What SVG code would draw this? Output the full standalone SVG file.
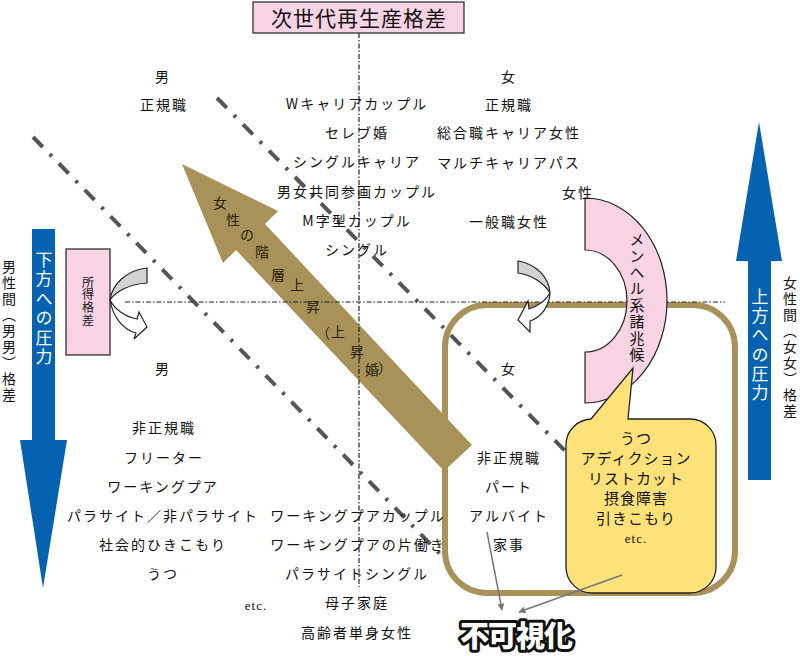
<svg xmlns="http://www.w3.org/2000/svg" width="800" height="656" viewBox="0 0 800 656">
<defs>
<style>
.t{font-family:"Noto Sans CJK JP","Noto Sans",sans-serif;font-size:14px;fill:#111;letter-spacing:2px;text-anchor:middle}
.b{font-family:"Noto Sans CJK JP","Noto Sans",sans-serif;font-size:15px;fill:#111;letter-spacing:1px;text-anchor:middle}
.s{font-family:"Liberation Serif","Noto Serif",serif;font-size:13px;fill:#111;letter-spacing:1px;text-anchor:middle}
.v{font-family:"Noto Sans CJK JP",sans-serif;writing-mode:vertical-rl;fill:#111}
.a{font-family:"Noto Sans CJK JP",sans-serif;font-size:14px;fill:#2a2210;text-anchor:middle}
.diag{stroke:#555;stroke-width:4;stroke-dasharray:14 10 3 10;fill:none}
.dot{stroke:#222;stroke-width:1.2;stroke-dasharray:5 2 1.5 2;fill:none}
.pk{fill:#f8d3e4;stroke:#222;stroke-width:1.2}
.ca{stroke:#222;stroke-width:1.2}
.con{stroke:#777;stroke-width:1.5;fill:none;marker-end:url(#ah)}
</style>
<marker id="ah" viewBox="0 0 10 10" refX="9" refY="5" markerWidth="7" markerHeight="7" orient="auto" markerUnits="userSpaceOnUse">
<path d="M0,0 L10,5 L0,10 z" fill="#777"/>
</marker>
</defs>
<rect width="800" height="656" fill="#fff"/>

<g id="frame">
<rect x="445" y="305" width="290" height="288" rx="42" fill="none" stroke="#a89259" stroke-width="6"/>
</g>

<g id="boundaries">
<line class="diag" x1="33" y1="137" x2="443" y2="557"/>
<line class="diag" x1="217" y1="98" x2="577" y2="463"/>
</g>

<g id="rise-arrow">
<polygon points="182,164 278,211 265,224 472,445 444,471 236,250 223,263" fill="#a89259"/>
<text class="a" x="220" y="208">女</text>
<text class="a" x="233" y="225">性</text>
<text class="a" x="247" y="240">の</text>
<text class="a" x="262" y="257">階</text>
<text class="a" x="278" y="280">層</text>
<text class="a" x="297" y="290">上</text>
<text class="a" x="313" y="312">昇</text>
<text class="a" x="323" y="338">（</text>
<text class="a" x="338" y="337">上</text>
<text class="a" x="357" y="357">昇</text>
<text class="a" x="372" y="375">婚</text>
<text class="a" x="385" y="373">）</text>
</g>

<g id="axes">
<line class="dot" x1="359" y1="33" x2="359" y2="587"/>
<line class="dot" x1="125" y1="302" x2="725" y2="302" stroke-dasharray="7 3 2 3"/>
</g>

<g id="title">
<rect x="253" y="2" width="211" height="31" class="pk" stroke-width="2"/>
<text x="359" y="26" font-family="Noto Sans CJK JP,sans-serif" font-size="21" fill="#111" text-anchor="middle" letter-spacing="1">次世代再生産格差</text>
</g>

<g id="income-gap">
<rect x="66" y="249" width="44" height="106" class="pk" stroke-width="2"/>
<text class="v" x="88" y="276" font-size="12" letter-spacing="0.8">所得格差</text>
</g>

<g id="turn-left">
<path class="ca" d="M147,268 C127,270 112,284 110,300 C116,291 130,284 147,283 Z" fill="#d1d3d4"/>
<path class="ca" d="M110,300 C113,318 124,330 136,333 L134,339 L147,327 L139,312 L137,319 C126,317 115,310 110,300 Z" fill="#fff"/>
</g>

<g id="turn-right">
<path class="ca" d="M518,261 C536,264 549,277 550,293 C544,283 532,275 518,273 Z" fill="#d1d3d4"/>
<path class="ca" d="M550,293 C549,306 542,317 530,321 L530,332 L518,320 L528,301 L529,309 C538,306 546,300 550,293 Z" fill="#fff"/>
</g>

<g id="mental-health">
<path class="pk" d="M585,198 A82,102.5 0 0 1 585,403 L585,352 A42,51 0 0 0 585,250 Z"/>
<text class="v" x="637" y="232" font-size="15" letter-spacing="1.4">メンヘル系諸兆候</text>
</g>

<g id="symptoms">
<path d="M591,419 L633,368 L628,419 L690,419 A26,26 0 0 1 716,445 L716,567 A26,26 0 0 1 690,593 L592,593 A26,26 0 0 1 566,567 L566,445 A26,26 0 0 1 591,419 Z" fill="#fde27a" stroke="#222" stroke-width="1.3"/>
<text class="b" x="636" y="444">うつ</text>
<text class="b" x="636" y="464">アディクション</text>
<text class="b" x="636" y="484">リストカット</text>
<text class="b" x="636" y="504">摂食障害</text>
<text class="b" x="636" y="524">引きこもり</text>
<text class="s" x="636" y="543">etc.</text>
</g>

<g id="down-pressure">
<polygon points="32,229 55,229 55,440 67,440 43,588 20,440 32,440" fill="#0462b1"/>
<text class="v" x="44" y="251" font-size="17" letter-spacing="2.4" style="fill:#fff">下方への圧力</text>
</g>
<g id="up-pressure">
<polygon points="759,122 782,261 771,261 771,480 748,480 748,261 736,261" fill="#0462b1"/>
<text class="v" x="760" y="288" font-size="17" letter-spacing="2.2" style="fill:#fff">上方への圧力</text>
</g>

<g id="male-gap"><text class="v" x="9" y="260" font-size="14" letter-spacing="2">男性間（男男）格差</text></g>
<g id="female-gap"><text class="v" x="790" y="276" font-size="14" letter-spacing="2">女性間（女女）格差</text></g>

<g id="male-regular">
<text class="t" x="163" y="82">男</text>
<text class="t" x="164" y="110">正規職</text>
</g>
<g id="couples-upper">
<text class="t" x="357" y="109">Wキャリアカップル</text>
<text class="t" x="357" y="138">セレブ婚</text>
<text class="t" x="357" y="167">シングルキャリア</text>
<text class="t" x="357" y="197">男女共同参画カップル</text>
<text class="t" x="357" y="226">M字型カップル</text>
<text class="t" x="357" y="255">シングル</text>
</g>
<g id="female-regular">
<text class="t" x="509" y="82">女</text>
<text class="t" x="509" y="110">正規職</text>
<text class="t" x="509" y="138">総合職キャリア女性</text>
<text class="t" x="509" y="168">マルチキャリアパス</text>
<text class="t" x="578" y="198">女性</text>
<text class="t" x="509" y="227">一般職女性</text>
</g>
<g id="male-nonregular">
<text class="t" x="163" y="374">男</text>
<text class="t" x="164" y="433">非正規職</text>
<text class="t" x="164" y="463">フリーター</text>
<text class="t" x="163" y="492">ワーキングプア</text>
<text class="t" x="163" y="521">パラサイト／非パラサイト</text>
<text class="t" x="163" y="550">社会的ひきこもり</text>
<text class="t" x="163" y="579">うつ</text>
<text class="s" x="256" y="610">etc.</text>
</g>
<g id="couples-lower">
<text class="t" x="358" y="521">ワーキングプアカップル</text>
<text class="t" x="358" y="550">ワーキングプアの片働き</text>
<text class="t" x="357" y="579">パラサイトシングル</text>
<text class="t" x="357" y="608">母子家庭</text>
<text class="t" x="357" y="638">高齢者単身女性</text>
</g>
<g id="female-nonregular">
<text class="t" x="509" y="374">女</text>
<text class="t" x="509" y="463">非正規職</text>
<text class="t" x="509" y="492">パート</text>
<text class="t" x="509" y="521">アルバイト</text>
<text class="t" x="509" y="550">家事</text>
</g>

<g id="connectors">
<line class="con" x1="487" y1="532" x2="502" y2="610"/>
<line class="con" x1="622" y1="575" x2="519" y2="612"/>
</g>

<g id="invisible">
<text x="516" y="647" font-family="Noto Sans CJK JP,sans-serif" font-size="29" font-weight="900" fill="#fff" stroke="#111" stroke-width="6" stroke-linejoin="round" paint-order="stroke" text-anchor="middle" letter-spacing="-1">不可視化</text>
</g>
</svg>
